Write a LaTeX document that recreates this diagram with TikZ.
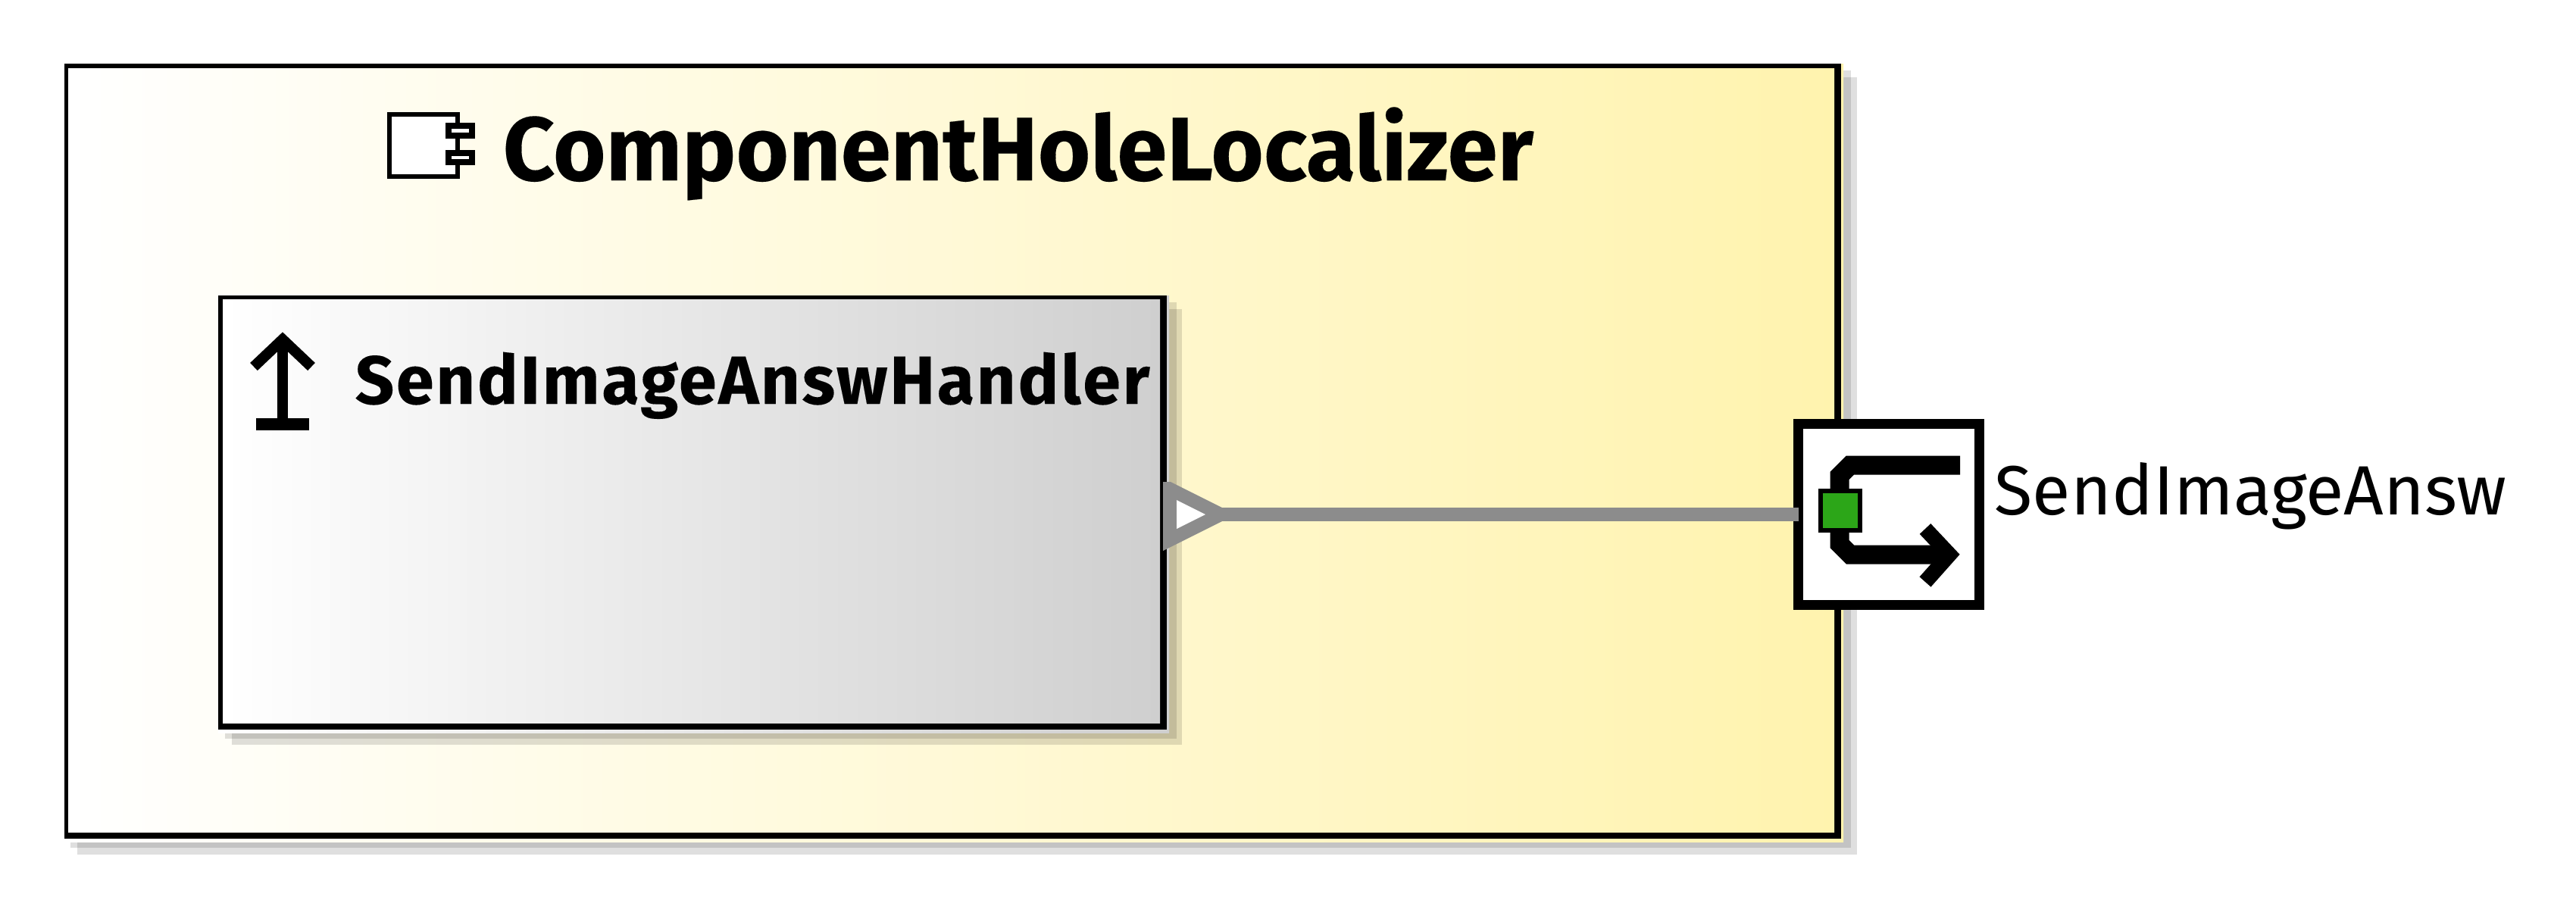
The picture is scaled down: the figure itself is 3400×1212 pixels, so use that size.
\documentclass[tikz,border=0pt]{standalone}
\usepackage{fontspec}
\setmainfont{Fira Sans}[BoldFeatures={FakeBold=0.12}]
\definecolor{compyellow}{HTML}{FFF3AE}
\definecolor{classgray}{HTML}{CFCFCF}
\definecolor{wiregray}{HTML}{8C8C8C}
\definecolor{portgreen}{HTML}{2CA618}
\tikzset{
    compfill/.style={left color=white, right color=compyellow},
    classfill/.style={left color=white, right color=classgray},
    compbox/.style={compfill, inner sep=0pt, outer sep=0pt, anchor=north west,
        minimum width=582.75pt, minimum height=252pt},
    classbox/.style={classfill, inner sep=0pt, outer sep=0pt, anchor=north west,
        minimum width=309.25pt, minimum height=139.75pt},
    portbox/.style={draw=black, fill=white, line width=3.25pt, inner sep=0pt, outer sep=0pt, minimum size=59.75pt},
    portdot/.style={fill=portgreen, draw=black, line width=1.5pt, inner sep=0pt, outer sep=0pt, minimum size=13pt},
    title/.style={font=\fontsize{29.8}{34}\selectfont\bfseries, anchor=base west, inner sep=0pt},
    subtitle/.style={font=\fontsize{22.5}{27}\selectfont\bfseries\addfontfeatures{LetterSpace=3}, anchor=base west, inner sep=0pt},
    portlabel/.style={font=\fontsize{23}{28}\selectfont, anchor=base west, inner sep=0pt},
    shadowtone/.style={fill=black, opacity=.125},
    wire/.style={draw=wiregray, line width=4.5pt},
    iconline/.style={draw=black, line width=6.25pt},
    iconthin/.style={draw=black, line width=1.7pt, fill=white},
    iconstem/.style={draw=black, line width=3.5pt},
}
\begin{document}
\begin{tikzpicture}[x=0.25pt, y=-0.25pt]
\useasboundingbox (0,0) rectangle (3400,1212);
\fill[white] (0,0) rectangle (3400,1212);
\fill[shadowtone] (93,93) rectangle (2443,1119);
\fill[shadowtone] (102,102) rectangle (2451,1128);
\shade[compfill] (85,84) rectangle (2433,1111);
\fill[black] (85,84) rectangle (2430,1107);
\node[compbox] (comp) at (90,90) {};
\draw[iconthin] (514,151) rectangle (604,233);
\draw[iconthin, line width=2pt] (592,166) rectangle (623,179);
\draw[iconthin, line width=2pt] (592,202) rectangle (623,214);
\node[title] (compname) at (663,238) {ComponentHoleLocalizer};
\fill[shadowtone] (297,399) rectangle (1553,975);
\fill[shadowtone] (306,408) rectangle (1560,983);
\shade[classfill] (288,390) rectangle (1543,967);
\fill[black] (288,390) rectangle (1540,963);
\node[classbox] (handler) at (294,395) {};
\draw[iconstem] (373,448) -- (373,560);
\draw[iconstem, line width=4pt] (338,560) -- (408,560);
\draw[iconstem] (335,484) -- (373,448) -- (411,484);
\node[subtitle] (handlername) at (468,533) {SendImageAnswHandler};
\node[portbox] (sendport) at (2493,679) {};
\coordinate (provtip) at (1600,679);
\draw[wire] (provtip) -- (sendport.west);
\fill[wiregray] (1535,636) -- (1545,636) -- (1613,670) -- (1613,688) -- (1535,727) -- cycle;
\fill[white] (1553,660) -- (1591,679) -- (1553,698) -- cycle;
\draw[iconline] (2587,614) -- (2442,614) -- (2428,628) -- (2428,660);
\draw[iconline] (2428,690) -- (2428,718) -- (2442,732) -- (2570,732);
\draw[iconline, line width=5pt] (2541,698) -- (2573,732) -- (2541,768);
\node[portdot] (sendportdot) at (2429,674) {};
\node[portlabel] (portname) at (2632,679) {SendImageAnsw};
\end{tikzpicture}
\end{document}
